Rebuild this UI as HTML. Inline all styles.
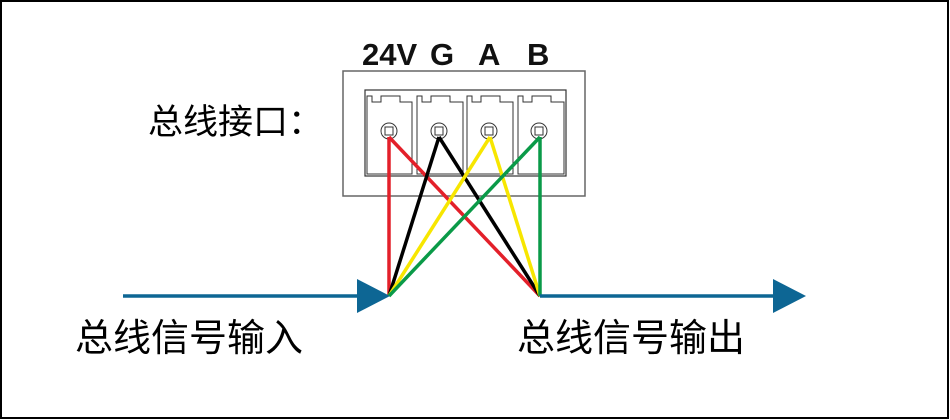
<!DOCTYPE html>
<html><head><meta charset="utf-8"><style>
body{margin:0;background:#fff}
svg{display:block}
text{font-family:"Liberation Sans","Noto Sans CJK SC",sans-serif}
</style></head><body>
<svg width="950" height="420" viewBox="0 0 950 420" xmlns="http://www.w3.org/2000/svg">
<rect x="1" y="1" width="947" height="417" fill="#fff" stroke="#000" stroke-width="2"/>
<g font-weight="bold" font-size="31" fill="#111">
<text x="362" y="65">24V</text><text x="430" y="65">G</text><text x="478" y="65">A</text><text x="527" y="65">B</text>
</g>
<text x="148" y="134" font-size="35" fill="#000">总线接口：</text>
<rect x="343" y="71" width="242" height="125" fill="#fff" stroke="#666" stroke-width="1.5"/>
<rect x="365" y="90" width="201" height="86" fill="none" stroke="#333" stroke-width="1.2"/>
<g fill="none" stroke="#333" stroke-width="1">
<path d="M367 96 H372 V102 H381 V96 H400 V102 H412 V174 H367 Z"/>
<path d="M417 96 H422 V102 H431 V96 H450 V102 H463 V174 H417 Z"/>
<path d="M467 96 H472 V102 H481 V96 H500 V102 H513 V174 H467 Z"/>
<path d="M518 96 H523 V102 H532 V96 H551 V102 H564 V174 H518 Z"/>
<circle cx="389" cy="131" r="8"/><rect x="385" y="127" width="8" height="8"/>
<circle cx="439" cy="131" r="8"/><rect x="435" y="127" width="8" height="8"/>
<circle cx="489" cy="131" r="8"/><rect x="485" y="127" width="8" height="8"/>
<circle cx="539" cy="131" r="8"/><rect x="535" y="127" width="8" height="8"/>
</g>
<g stroke-width="3.5" fill="none">
<line x1="389" y1="137" x2="389" y2="296" stroke="#e3202a"/>
<line x1="389" y1="137" x2="540" y2="296" stroke="#e3202a"/>
<line x1="439" y1="137" x2="389" y2="296" stroke="#000"/>
<line x1="439" y1="137" x2="540" y2="296" stroke="#000"/>
<line x1="490" y1="137" x2="389" y2="296" stroke="#f7e600"/>
<line x1="490" y1="137" x2="540" y2="296" stroke="#f7e600"/>
<line x1="540" y1="137" x2="389" y2="296" stroke="#0a9a48"/>
<line x1="540" y1="137" x2="540" y2="296" stroke="#0a9a48"/>
</g>
<g fill="#0d6694" stroke="#0d6694">
<line x1="123" y1="296" x2="362" y2="296" stroke-width="3.5"/>
<polygon points="357,279 390,296 357,313" stroke="none"/>
<line x1="540" y1="296" x2="778" y2="296" stroke-width="3.5"/>
<polygon points="773,279 806,296 773,313" stroke="none"/>
</g>
<text x="75" y="351" font-size="38" fill="#000">总线信号输入</text>
<text x="517" y="351" font-size="38" fill="#000">总线信号输出</text>
</svg>
</body></html>
